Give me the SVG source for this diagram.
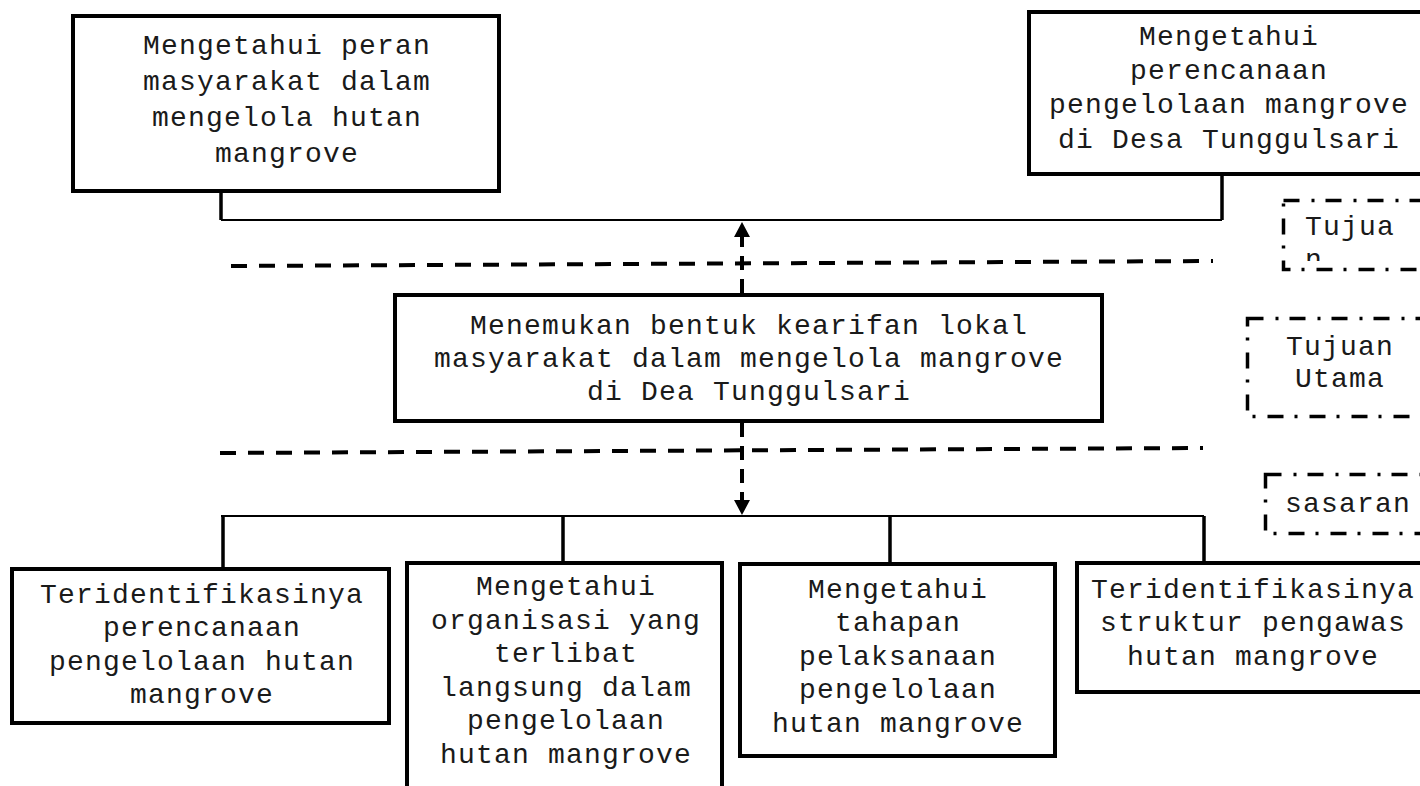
<svg xmlns="http://www.w3.org/2000/svg" width="1420" height="786" viewBox="0 0 1420 786">
<style>
.box{fill:#fff;stroke:#000;stroke-width:4}
.lbl{fill:none;stroke:#000;stroke-width:3.5;stroke-dasharray:16 12 3 11}
.t{font-family:"Courier New","Nimbus Mono PS","FreeMono","Liberation Mono",monospace;font-size:28px;letter-spacing:1.2px;fill:#1a1a1a;text-anchor:middle}
.ts{text-anchor:start}
.solid{fill:none;stroke:#000;stroke-width:2}
.vert{fill:none;stroke:#000;stroke-width:3.5}
.sep{fill:none;stroke:#000;stroke-width:4;stroke-dasharray:16 12}
.darr{fill:none;stroke:#000;stroke-width:4;stroke-dasharray:14 9}
</style>
<defs>
<marker id="ah" markerUnits="userSpaceOnUse" markerWidth="16" markerHeight="16" refX="0" refY="8" orient="auto">
<path d="M0,0 L15,8 L0,16 z" fill="#000"/>
</marker>
<clipPath id="clipTujua"><rect x="1285" y="202" width="200" height="59"/></clipPath>
</defs>
<rect width="1420" height="786" fill="#fff"/>

<g id="connectors">
<path class="vert" d="M221,193 V220 M1222,176 V220"/>
<path class="solid" d="M221,220 H1222"/>
<path class="sep" d="M231,266 L1213,261"/>
<path class="sep" d="M220,453 L1203,448"/>
<path class="darr" d="M742,293 V237" marker-end="url(#ah)"/>
<path class="darr" d="M742,423 V500" marker-end="url(#ah)"/>
<path class="solid" d="M221,516 H1204"/>
<path class="vert" d="M223,516 V567 M563,516 V561 M890,516 V562 M1204,516 V561"/>
</g>

<g id="goal-peran">
<rect class="box" x="73" y="16" width="426" height="175"/>
<text class="t" x="287" y="54">Mengetahui peran</text>
<text class="t" x="287" y="90">masyarakat dalam</text>
<text class="t" x="287" y="126">mengelola hutan</text>
<text class="t" x="287" y="162">mangrove</text>
</g>

<g id="goal-perencanaan">
<rect class="box" x="1029" y="12" width="420" height="162"/>
<text class="t" x="1229" y="45">Mengetahui</text>
<text class="t" x="1229" y="79">perencanaan</text>
<text class="t" x="1229" y="113">pengelolaan mangrove</text>
<text class="t" x="1229" y="148">di Desa Tunggulsari</text>
</g>

<g id="main-goal">
<rect class="box" x="395" y="295" width="707" height="126"/>
<text class="t" x="749" y="334">Menemukan bentuk kearifan lokal</text>
<text class="t" x="749" y="367">masyarakat dalam mengelola mangrove</text>
<text class="t" x="749" y="400">di Dea Tunggulsari</text>
</g>

<g id="target-1">
<rect class="box" x="12" y="569" width="377" height="154"/>
<text class="t" x="202" y="603">Teridentifikasinya</text>
<text class="t" x="202" y="636">perencanaan</text>
<text class="t" x="202" y="670">pengelolaan hutan</text>
<text class="t" x="202" y="703">mangrove</text>
</g>

<g id="target-2">
<rect class="box" x="407" y="563" width="315" height="260"/>
<text class="t" x="566" y="595">Mengetahui</text>
<text class="t" x="566" y="629">organisasi yang</text>
<text class="t" x="566" y="662">terlibat</text>
<text class="t" x="566" y="696">langsung dalam</text>
<text class="t" x="566" y="729">pengelolaan</text>
<text class="t" x="566" y="763">hutan mangrove</text>
</g>

<g id="target-3">
<rect class="box" x="740" y="564" width="315" height="192"/>
<text class="t" x="898" y="598">Mengetahui</text>
<text class="t" x="898" y="631">tahapan</text>
<text class="t" x="898" y="665">pelaksanaan</text>
<text class="t" x="898" y="698">pengelolaan</text>
<text class="t" x="898" y="732">hutan mangrove</text>
</g>

<g id="target-4">
<rect class="box" x="1077" y="563" width="360" height="129"/>
<text class="t" x="1253" y="598">Teridentifikasinya</text>
<text class="t" x="1253" y="631">struktur pengawas</text>
<text class="t" x="1253" y="665">hutan mangrove</text>
</g>

<g id="label-tujuan">
<rect class="lbl" x="1283.5" y="200.5" width="200" height="69"/>
<g clip-path="url(#clipTujua)">
<text class="t ts" x="1305" y="235">Tujua</text>
<text class="t ts" x="1305" y="268">n</text>
</g>
</g>

<g id="label-tujuan-utama">
<rect class="lbl" x="1247.5" y="318.5" width="200" height="98"/>
<text class="t" x="1340" y="355">Tujuan</text>
<text class="t" x="1340" y="387">Utama</text>
</g>

<g id="label-sasaran">
<rect class="lbl" x="1265.5" y="474.5" width="200" height="59"/>
<text class="t" x="1348" y="512">sasaran</text>
</g>
</svg>
